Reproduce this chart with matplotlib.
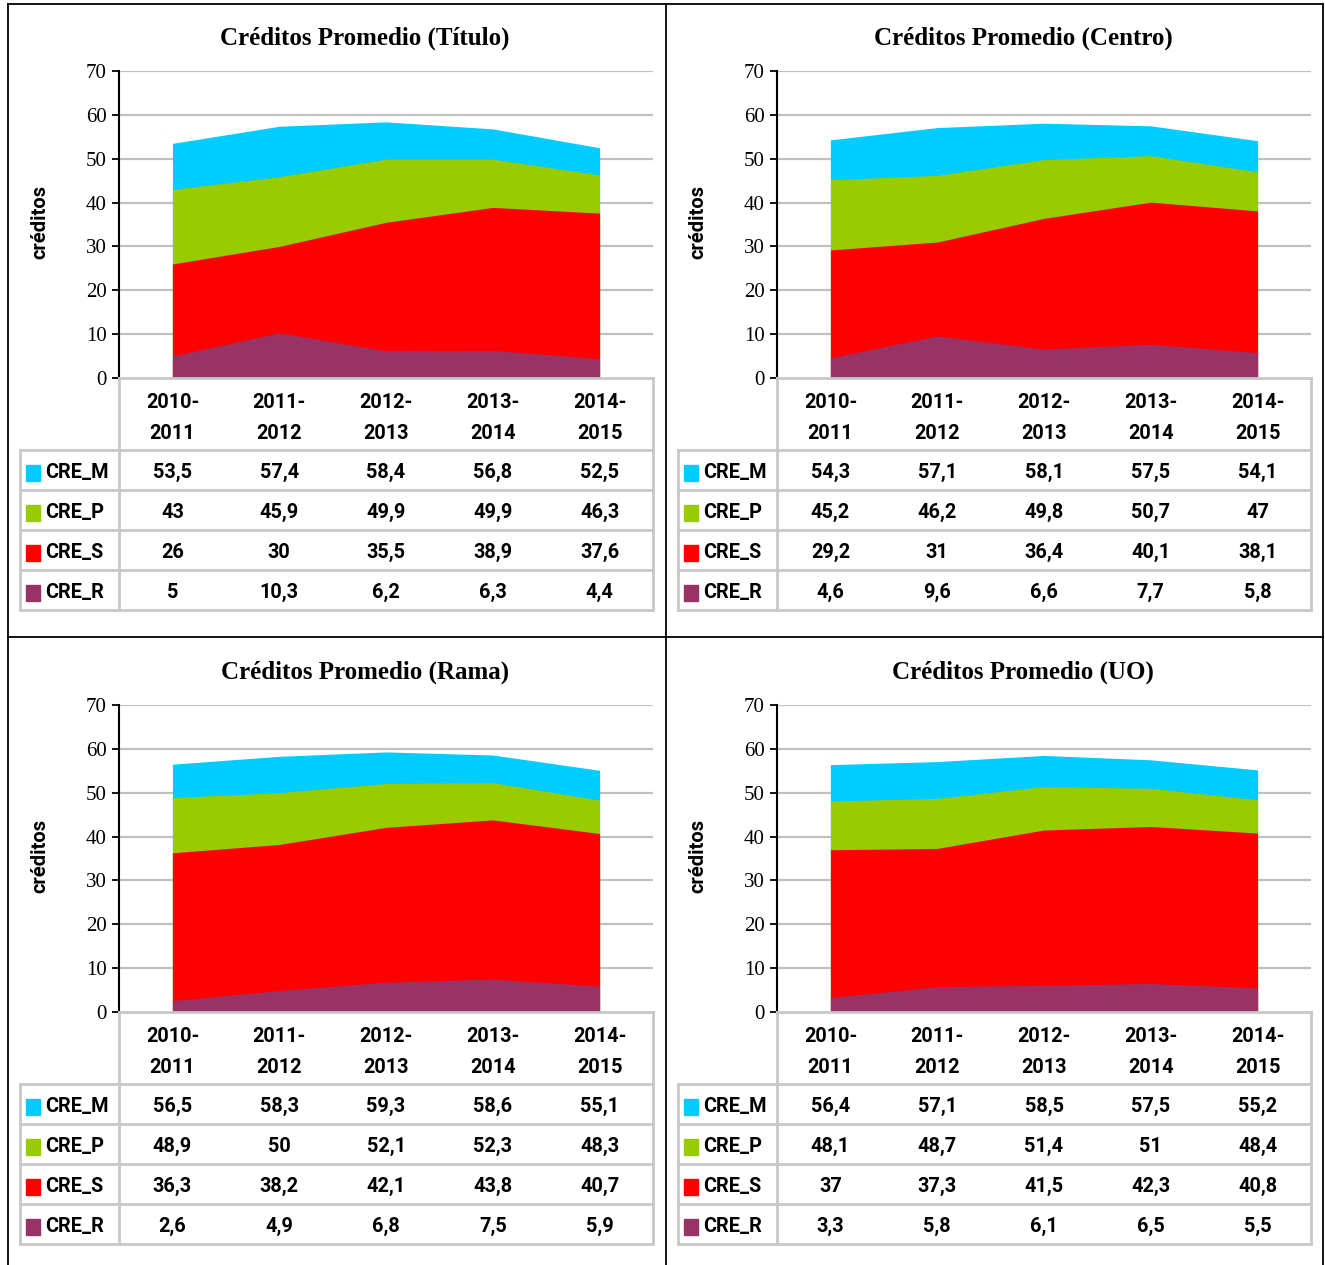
import matplotlib
matplotlib.use("Agg")
import matplotlib.pyplot as plt
from matplotlib.lines import Line2D
from matplotlib.patches import Rectangle

# ---------------- data ----------------
years = ["2010-\n2011", "2011-\n2012", "2012-\n2013", "2013-\n2014", "2014-\n2015"]
series_names = ["CRE_M", "CRE_P", "CRE_S", "CRE_R"]
titles = ["Créditos Promedio (Título)", "Créditos Promedio (Centro)",
          "Créditos Promedio (Rama)", "Créditos Promedio (UO)"]

titulo_M = [53.5, 57.4, 58.4, 56.8, 52.5]
titulo_P = [43, 45.9, 49.9, 49.9, 46.3]
titulo_S = [26, 30, 35.5, 38.9, 37.6]
titulo_R = [5, 10.3, 6.2, 6.3, 4.4]

centro_M = [54.3, 57.1, 58.1, 57.5, 54.1]
centro_P = [45.2, 46.2, 49.8, 50.7, 47]
centro_S = [29.2, 31, 36.4, 40.1, 38.1]
centro_R = [4.6, 9.6, 6.6, 7.7, 5.8]

rama_M = [56.5, 58.3, 59.3, 58.6, 55.1]
rama_P = [48.9, 50, 52.1, 52.3, 48.3]
rama_S = [36.3, 38.2, 42.1, 43.8, 40.7]
rama_R = [2.6, 4.9, 6.8, 7.5, 5.9]

uo_M = [56.4, 57.1, 58.5, 57.5, 55.2]
uo_P = [48.1, 48.7, 51.4, 51, 48.4]
uo_S = [37, 37.3, 41.5, 42.3, 40.8]
uo_R = [3.3, 5.8, 6.1, 6.5, 5.5]

panels_data = [
    [titulo_M, titulo_P, titulo_S, titulo_R],
    [centro_M, centro_P, centro_S, centro_R],
    [rama_M, rama_P, rama_S, rama_R],
    [uo_M, uo_P, uo_S, uo_R],
]

colors = ["#00CCFF", "#99CC00", "#FF0000", "#993366"]
grid_c = "#C0C0C0"

# ---------------- layout ----------------
W, H = 1325, 1265
fig = plt.figure(figsize=(W / 100, H / 100), dpi=100)
fig.patch.set_facecolor("white")

def rect(x0, y0, x1, y1):
    return [x0 / W, 1 - y1 / H, (x1 - x0) / W, (y1 - y0) / H]

serif = ["Liberation Serif", "DejaVu Serif"]
tfont = ["Roboto", "DejaVu Sans"]
TFS = 14.3

offsets = [(0, 0), (658, 0), (0, 634), (658, 634)]

def fmt(v):
    return f"{v:g}".replace(".", ",")

for k, (dx, dy) in enumerate(offsets):
    data = panels_data[k]
    px0, px1 = 119 + dx, 653 + dx
    py0, py1 = 71 + dy, 378 + dy
    ax = fig.add_axes(rect(px0, py0, px1, py1))
    x = list(range(len(years)))
    for vals, c in zip(data, colors):
        ax.fill_between(x, 0, vals, color=c, linewidth=0, zorder=2)
    ax.set_xlim(-0.5, len(years) - 0.5)
    ax.set_ylim(0, 70)
    ax.set_yticks(range(0, 71, 10))
    for yv in range(10, 71, 10):
        ax.axhline(yv, color=grid_c, lw=1.6, zorder=1)
    for s in ["top", "right", "bottom"]:
        ax.spines[s].set_visible(False)
    ax.spines["left"].set_linewidth(1.5)
    ax.spines["left"].set_color("black")
    ax.set_xticks([])
    ax.tick_params(axis="y", direction="out", length=5, width=1.3, pad=4,
                   labelsize=15)
    for lab in ax.get_yticklabels():
        lab.set_family(serif)
    ax.set_facecolor("none")

    fig.text((40 + dx) / W, 1 - (222 + dy) / H, "créditos", family=tfont,
             fontweight="bold", fontsize=14.5, rotation=90, ha="center",
             va="center")

    fig.text((365 + dx) / W, 1 - (38 + dy) / H, titles[k], family=serif,
             fontweight="bold", fontsize=18, ha="center", va="center")

    # ---- data table ----
    tx0 = 20 + dx
    ty0, ty1 = 378 + dy, 610 + dy
    tax = fig.add_axes(rect(tx0, ty0, px1, ty1))
    unit = (px1 - px0) / len(years)
    left_lim = -0.5 - (px0 - tx0) / unit
    tax.set_xlim(left_lim, len(years) - 0.5)
    hdr = 72 / 40.0
    tot = hdr + len(series_names)
    tax.set_ylim(tot, 0)
    tax.axis("off")
    lc = "#C8C8C8"
    lw = 2.0
    tax.add_line(Line2D([-0.5, len(years) - 0.5], [0, 0], color=lc, lw=lw, clip_on=False))
    tax.add_line(Line2D([-0.5, -0.5], [0, tot], color=lc, lw=lw, clip_on=False))
    tax.add_line(Line2D([len(years) - 0.5] * 2, [0, tot], color=lc, lw=lw, clip_on=False))
    tax.add_line(Line2D([left_lim, left_lim], [hdr, tot], color=lc, lw=lw, clip_on=False))
    for r in range(len(series_names) + 1):
        tax.add_line(Line2D([left_lim, len(years) - 0.5], [hdr + r, hdr + r],
                            color=lc, lw=lw, clip_on=False))
    for i, yl in enumerate(years):
        tax.text(i, hdr / 2 + 0.1, yl, ha="center", va="center", family=tfont,
                 fontweight="bold", fontsize=TFS, linespacing=1.75)
    for r, (name, vals, c) in enumerate(zip(series_names, data, colors)):
        yc = hdr + r + 0.58
        sq = 14 / unit
        tax.add_patch(Rectangle((left_lim + 6 / unit, yc - 0.2), sq, 0.4,
                                color=c, clip_on=False))
        tax.text(left_lim + 25 / unit, yc - 0.02, name, ha="left", va="center",
                 family=tfont, fontweight="bold", fontsize=TFS)
        for i, v in enumerate(vals):
            tax.text(i, hdr + r + 0.55, fmt(v), ha="center", va="center",
                     family=tfont, fontweight="bold", fontsize=TFS)

# ---------------- outer frame ----------------
fr = fig.add_axes([0, 0, 1, 1])
fr.set_xlim(0, W)
fr.set_ylim(H, 0)
fr.axis("off")
fr.set_zorder(-1)
for xs, ys in [([8, 8], [4, H]), ([1323, 1323], [4, H]), ([666, 666], [4, H]),
               ([8, 1323], [4, 4]), ([8, 1323], [637, 637])]:
    fr.add_line(Line2D(xs, ys, color="black", lw=1.3))

fig.savefig("out.png", dpi=100)
